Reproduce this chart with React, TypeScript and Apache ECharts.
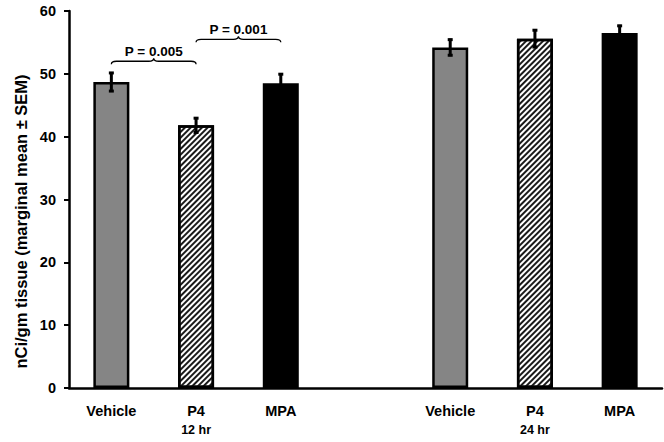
import React, { useEffect, useRef } from "react";
import * as echarts from "echarts";

const categories = ["Vehicle", "P4", "MPA", "", "Vehicle", "P4", "MPA"];
const subLabels = ["", "12 hr", "", "", "", "24 hr", ""];
const means: (number | null)[] = [48.7, 41.8, 48.5, null, 54.2, 55.6, 56.5];
const sems: (number | null)[] = [1.6, 1.3, 1.6, null, 1.4, 1.5, 1.3];
const fills = ["gray", "hatch", "black", "", "gray", "hatch", "black"];
const yTicks = { min: 0, max: 60, interval: 10 };
const yTitle = "nCi/gm tissue (marginal mean ± SEM)";
const comparisons = [
  { from: 0, to: 1, at: 52, label: "P = 0.005" },
  { from: 1, to: 2, at: 55.5, label: "P = 0.001" },
];

const FONT = "'Liberation Sans', Arial, sans-serif";

echarts.graphic.registerShape(
  "brace",
  echarts.graphic.extendShape({
    shape: { x1: 0, x2: 0, y: 0, h: 3 },
    buildPath(ctx: any, s: any) {
      const { x1, x2, y, h } = s;
      const xm = (x1 + x2) / 2;
      const r = 5;
      ctx.moveTo(x1, y + h);
      ctx.quadraticCurveTo(x1, y, x1 + r, y);
      ctx.lineTo(xm - r, y);
      ctx.quadraticCurveTo(xm, y, xm, y - h);
      ctx.quadraticCurveTo(xm, y, xm + r, y);
      ctx.lineTo(x2 - r, y);
      ctx.quadraticCurveTo(x2, y, x2, y + h);
    },
  })
);

function itemStyleFor(kind: string) {
  if (kind === "gray") return { color: "#858585", borderColor: "#000", borderWidth: 2.5 };
  if (kind === "black") return { color: "#000", borderColor: "#000", borderWidth: 2.5 };
  return {
    color: "#fff",
    borderColor: "#000",
    borderWidth: 2.5,
    decal: {
      symbol: "rect",
      symbolSize: 1,
      dashArrayX: [1, 0],
      dashArrayY: [1.4, 1.3],
      rotation: -Math.PI / 4,
      color: "#1a1a1a",
      backgroundColor: "#fff",
    },
  };
}

export default function App() {
  const ref = useRef<HTMLDivElement>(null);
  useEffect(() => {
    if (!ref.current) return;
    const chart = echarts.init(ref.current, undefined, { renderer: "svg" });
    const barData = means.map((v, i) =>
      v == null ? "-" : { value: v, itemStyle: itemStyleFor(fills[i]) }
    );
    const errData = means
      .map((v, i) => (v == null ? null : [i, v - (sems[i] as number), v + (sems[i] as number)]))
      .filter((d) => d != null);
    chart.setOption({
      animation: false,
      grid: { left: 69, right: 2, top: 11, bottom: 54 },
      xAxis: {
        type: "category",
        data: categories,
        axisLine: { lineStyle: { color: "#000", width: 2.5 } },
        axisTick: { show: false },
        axisLabel: {
          interval: 0,
          margin: 14,
          formatter: (v: string, i: number) =>
            subLabels[i] ? `{a|${v}}\n{b|${subLabels[i]}}` : `{a|${v}}`,
          rich: {
            a: { fontFamily: FONT, fontWeight: "bold", fontSize: 14.5, color: "#000", lineHeight: 18 },
            b: { fontFamily: FONT, fontWeight: "bold", fontSize: 12.5, color: "#000", lineHeight: 20 },
          },
        },
      },
      yAxis: {
        type: "value",
        min: yTicks.min,
        max: yTicks.max,
        interval: yTicks.interval,
        splitLine: { show: false },
        axisLine: { show: true, lineStyle: { color: "#000", width: 2.5 } },
        axisTick: { show: true, length: 5, lineStyle: { color: "#000", width: 2 } },
        axisLabel: {
          margin: 13,
          fontFamily: FONT,
          fontWeight: "bold",
          fontSize: 14.5,
          color: "#000",
        },
      },
      series: [
        {
          type: "bar",
          data: barData,
          barWidth: 36,
          z: 2,
        },
        {
          type: "custom",
          z: 3,
          data: errData,
          renderItem: (params: any, api: any) => {
            const x = api.value(0);
            const lo = api.coord([x, api.value(1)]);
            const hi = api.coord([x, api.value(2)]);
            const cap = 2.5;
            const style = { stroke: "#000", lineWidth: 3 };
            return {
              type: "group",
              children: [
                { type: "line", shape: { x1: lo[0], y1: lo[1], x2: hi[0], y2: hi[1] }, style },
                { type: "line", shape: { x1: hi[0] - cap, y1: hi[1] + 1, x2: hi[0] + cap, y2: hi[1] + 1 }, style },
                { type: "line", shape: { x1: lo[0] - cap, y1: lo[1] - 1, x2: lo[0] + cap, y2: lo[1] - 1 }, style },
              ],
            };
          },
        },
      ],
    });

    const graphics: any[] = [];
    const ymid = chart.convertToPixel({ yAxisIndex: 0 }, 26.5) as number;
    graphics.push({
      type: "text",
      x: 21,
      y: ymid,
      rotation: Math.PI / 2,
      style: {
        text: yTitle,
        fontFamily: FONT,
        fontWeight: "bold",
        fontSize: 16.5,
        fill: "#000",
        align: "center",
        verticalAlign: "middle",
      },
    });
    comparisons.forEach((c) => {
      const p1 = chart.convertToPixel({ xAxisIndex: 0, yAxisIndex: 0 }, [c.from, c.at]) as number[];
      const p2 = chart.convertToPixel({ xAxisIndex: 0, yAxisIndex: 0 }, [c.to, c.at]) as number[];
      graphics.push({
        type: "brace",
        shape: { x1: p1[0], x2: p2[0], y: p1[1], h: 3 },
        style: { stroke: "#000", fill: null, lineWidth: 1.3 },
      });
      graphics.push({
        type: "text",
        x: (p1[0] + p2[0]) / 2,
        y: p1[1] - 10,
        style: {
          text: c.label,
          fontFamily: FONT,
          fontWeight: "bold",
          fontSize: 13.5,
          fill: "#000",
          align: "center",
          verticalAlign: "middle",
        },
      });
    });
    chart.setOption({ graphic: graphics });

    return () => chart.dispose();
  }, []);
  return (
    <div
      ref={ref}
      style={{ position: "fixed", left: 0, top: 0, width: 664, height: 442, background: "#fff" }}
    />
  );
}
